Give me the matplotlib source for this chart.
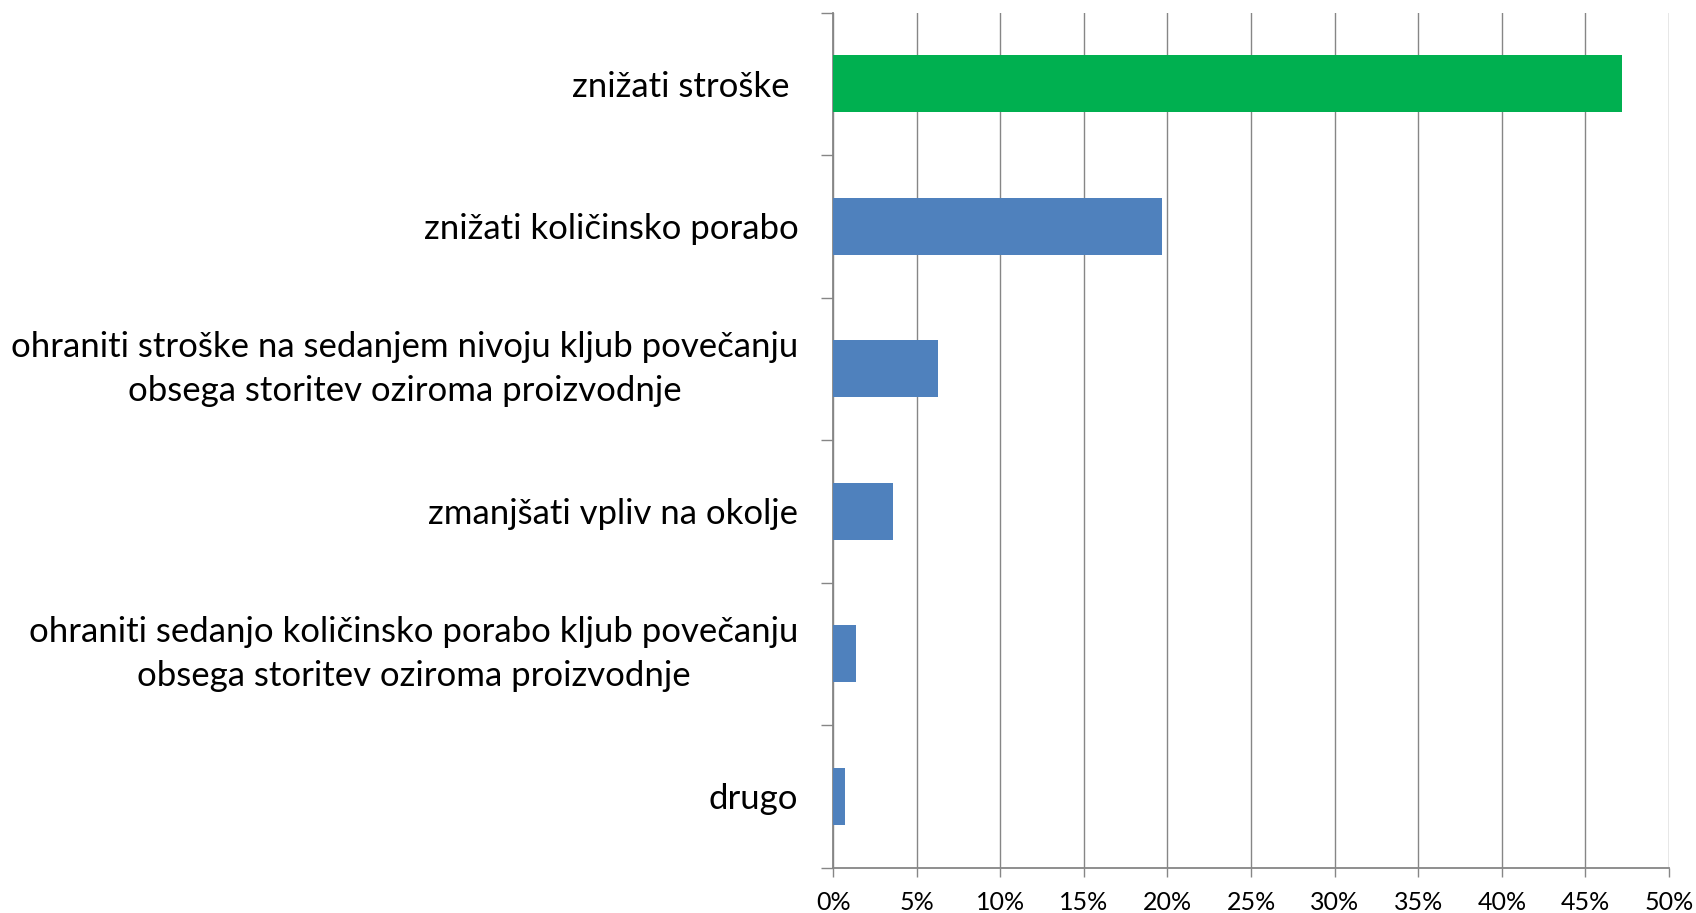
import numpy as np
import matplotlib
matplotlib.use('Agg')
import matplotlib.pyplot as plt

plt.rcParams['font.family'] = ['Lato', 'DejaVu Sans']

# data (top to bottom)
categories = ['znižati stroške ',
              'znižati količinsko porabo',
              'ohraniti stroške na sedanjem nivoju kljub povečanju\nobsega storitev oziroma proizvodnje',
              'zmanjšati vpliv na okolje',
              'ohraniti sedanjo količinsko porabo kljub povečanju\nobsega storitev oziroma proizvodnje',
              'drugo']
values = [47.2, 19.7, 6.3, 3.6, 1.4, 0.7]
colors = ['#00B050', '#4F81BD', '#4F81BD', '#4F81BD', '#4F81BD', '#4F81BD']
xticks = np.arange(0, 51, 5)

fig = plt.figure(figsize=(16.96, 9.13), dpi=100, facecolor='white')
ax = fig.add_axes([0.4912, 0.0496, 0.9841 - 0.4912, 0.9863 - 0.0496])

pos = np.arange(len(categories))
ax.barh(pos, values, height=0.4, color=colors, zorder=3)
ax.set_ylim(len(categories) - 0.5, -0.5)
ax.set_xlim(0, 50)

grid_c = '#868686'
ax.set_xticks(xticks)
ax.set_xticklabels([f'{t}%' for t in xticks], fontsize=18, color='#000000')
ax.xaxis.grid(True, color=grid_c, linewidth=1.0, zorder=0)
ax.tick_params(axis='x', length=6.5, width=1.0, color=grid_c, pad=10)

ax.set_yticks(pos)
ax.set_yticklabels(categories, fontsize=25, multialignment='center', linespacing=1.45)
for lbl in ax.get_yticklabels():
    if '\n' in lbl.get_text():
        lbl.set_verticalalignment('center')
ax.set_yticks(np.arange(-0.5, len(categories)), minor=True)
ax.tick_params(axis='y', which='major', length=0, pad=25)
ax.tick_params(axis='y', which='minor', length=8.6, width=1.0, color=grid_c)

for s in ['top', 'right']:
    ax.spines[s].set_visible(False)
for s in ['left', 'bottom']:
    ax.spines[s].set_color(grid_c)
    ax.spines[s].set_linewidth(1.3)

fig.savefig('out.png', dpi=100, facecolor='white')
